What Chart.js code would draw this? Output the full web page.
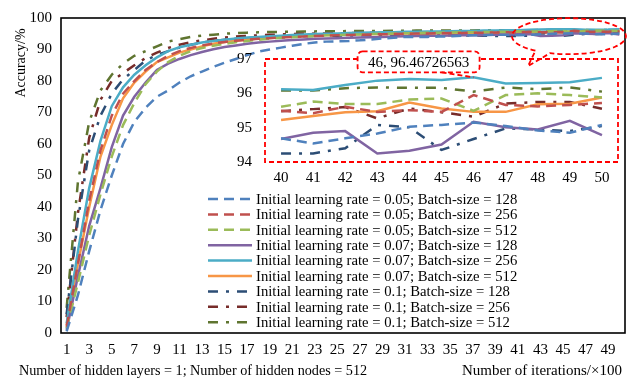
<!DOCTYPE html>
<html>
<head>
<meta charset="utf-8">
<script src="https://cdn.jsdelivr.net/npm/chart.js@4.4.1/dist/chart.umd.min.js"></script>
<style>
  html, body { margin: 0; padding: 0; background: #fff; }
  #wrap { position: relative; width: 638px; height: 383px; }
  #wrap canvas { position: absolute; left: 0; top: 0; }
</style>
</head>
<body>
<div id="wrap">
  <canvas id="mainChart" width="638" height="383"></canvas>
  <canvas id="insetChart" width="638" height="383"></canvas>
</div>
<script>
// x categories (iterations x100)
const iterations = [1, 2, 3, 4, 5, 6, 7, 8, 9, 10, 11, 12, 13, 14, 15, 16, 17, 18, 19, 20,
  21, 22, 23, 24, 25, 26, 27, 28, 29, 30, 31, 32, 33, 34, 35, 36, 37, 38, 39, 40,
  41, 42, 43, 44, 45, 46, 47, 48, 49, 50];
const zoomIterations = [40, 41, 42, 43, 44, 45, 46, 47, 48, 49, 50];
const zoomStart = 39; // index of iteration 40

const lr005_bs128 = [0.5, 12, 26, 39, 50, 60, 67, 71.5, 75, 77, 79.5, 81.5, 83, 84.5, 85.8, 87, 88.2, 89.3, 90, 90.6,
  91.2, 91.8, 92.2, 92.5, 92.6, 92.7, 92.9, 93.2, 93.5, 93.7, 94.0, 94.0, 94.0, 94.1, 94.2, 94.4, 94.5, 94.6, 94.7,
  94.69, 94.54, 94.69, 94.83, 95.03, 95.08, 95.15, 95.05, 94.92, 94.85, 95.08];
const lr005_bs256 = [2, 22, 42, 58, 69, 76, 80, 83.5, 86, 88, 89.5, 90.5, 91.3, 91.9, 92.4, 92.8, 93.1, 93.4, 93.6, 93.8,
  94.0, 94.1, 94.3, 94.4, 94.5, 94.6, 94.7, 94.8, 94.85, 94.9, 95.0, 95.05, 95.1, 95.15, 95.2, 95.25, 95.3, 95.35, 95.4,
  95.49, 95.42, 95.61, 95.46, 95.51, 95.46, 95.95, 95.66, 95.62, 95.66, 95.72];
const lr005_bs512 = [1.5, 16, 31, 44, 56, 66, 73, 79, 83, 86, 88, 89.5, 90.5, 91.2, 91.8, 92.3, 92.7, 93.1, 93.4, 93.7,
  93.9, 94.1, 94.3, 94.5, 94.6, 94.7, 94.8, 94.9, 95.0, 95.1, 95.15, 95.2, 95.3, 95.35, 95.4, 95.45, 95.5, 95.55, 95.6,
  95.61, 95.76, 95.69, 95.69, 95.82, 95.85, 95.49, 95.95, 96.0, 95.95, 95.88];
const lr007_bs128 = [1, 18, 34, 46, 59, 69, 75, 79.5, 83.5, 85.5, 87, 88.2, 89.2, 90.1, 90.8, 91.3, 91.8, 92.2, 92.5, 92.8,
  93.0, 93.2, 93.4, 93.5, 93.6, 93.7, 93.8, 93.9, 94.0, 94.1, 94.2, 94.3, 94.35, 94.4, 94.45, 94.5, 94.55, 94.6, 94.65,
  94.67, 94.85, 94.9, 94.25, 94.33, 94.51, 95.17, 95.01, 94.95, 95.2, 94.78];
const lr007_bs256 = [3, 26, 46, 61, 72, 78, 82, 85, 87.5, 89.5, 90.7, 91.5, 92.2, 92.7, 93.1, 93.5, 93.8, 94.0, 94.2, 94.4,
  94.6, 94.75, 94.9, 95.0, 95.1, 95.2, 95.3, 95.4, 95.45, 95.5, 95.6, 95.65, 95.7, 95.75, 95.8, 95.85, 95.9, 96.0, 96.05,
  96.12, 96.10, 96.24, 96.37, 96.42, 96.39, 96.46726563, 96.29, 96.30, 96.32, 96.45];
const lr007_bs512 = [2.5, 22, 40, 56, 66, 74.5, 79.5, 83, 86, 87.5, 89, 90, 91, 91.8, 92.4, 92.8, 93.2, 93.5, 93.8, 94.0,
  94.2, 94.35, 94.5, 94.6, 94.7, 94.8, 94.85, 94.9, 94.95, 95.0, 95.05, 95.1, 95.1, 95.15, 95.15, 95.2, 95.2, 95.2, 95.2,
  95.22, 95.34, 95.45, 95.48, 95.73, 95.56, 95.46, 95.46, 95.68, 95.70, 95.88];
const lr01_bs128 = [6, 36, 58, 69, 76, 80.5, 83.5, 86.5, 88.3, 89.5, 90.6, 91.5, 92.2, 92.7, 93.1, 93.4, 93.6, 93.8, 93.9, 94.0,
  94.1, 94.2, 94.3, 94.35, 94.4, 94.45, 94.5, 94.5, 94.55, 94.55, 94.6, 94.6, 94.6, 94.6, 94.55, 94.5, 94.45, 94.4, 94.3,
  94.25, 94.25, 94.4, 95.08, 95.01, 94.35, 94.67, 94.98, 94.95, 94.9, 95.05];
const lr01_bs256 = [5, 38, 62, 74, 80, 82.5, 85, 87.3, 89, 90.5, 91.5, 92.3, 92.9, 93.4, 93.8, 94.1, 94.3, 94.5, 94.65, 94.8,
  94.9, 95.0, 95.05, 95.1, 95.15, 95.2, 95.25, 95.3, 95.3, 95.35, 95.35, 95.4, 95.4, 95.45, 95.45, 95.45, 95.5, 95.5, 95.5,
  95.48, 95.54, 95.6, 95.27, 95.56, 95.45, 95.32, 95.7, 95.75, 95.75, 95.55];
const lr01_bs512 = [8, 48, 67, 77, 82, 85.5, 88, 89.5, 91, 92.5, 93.3, 94, 94.4, 94.7, 95, 95.2, 95.35, 95.45, 95.55, 95.6,
  95.65, 95.7, 95.75, 95.8, 95.8, 95.85, 95.85, 95.9, 95.9, 95.95, 95.95, 96.0, 96.0, 96.0, 96.05, 96.05, 96.05, 96.1, 96.1,
  96.08, 96.08, 96.15, 96.17, 96.16, 96.16, 96.05, 96.17, 96.12, 96.17, 96.05];

const seriesLabels = [
  'Initial learning rate = 0.05; Batch-size = 128',
  'Initial learning rate = 0.05; Batch-size = 256',
  'Initial learning rate = 0.05; Batch-size = 512',
  'Initial learning rate = 0.07; Batch-size = 128',
  'Initial learning rate = 0.07; Batch-size = 256',
  'Initial learning rate = 0.07; Batch-size = 512',
  'Initial learning rate = 0.1; Batch-size = 128',
  'Initial learning rate = 0.1; Batch-size = 256',
  'Initial learning rate = 0.1; Batch-size = 512'
];
const series = [lr005_bs128, lr005_bs256, lr005_bs512, lr007_bs128, lr007_bs256, lr007_bs512,
  lr01_bs128, lr01_bs256, lr01_bs512];

const calloutIndex = 6; // iteration 46 in the zoomed view
const calloutSeries = 4;

// styles
const DASH = [10, 6];
const DASH_DOT = [10, 8, 3, 8];
const seriesColors = ['#4F81BD', '#C0504D', '#9BBB59', '#8064A2', '#4BACC6', '#F79646', '#2C4D75', '#772C2A', '#5F7530'];
const seriesDash = [DASH, DASH, DASH, [], [], [], DASH_DOT, DASH_DOT, DASH_DOT];
const FONT = '"Liberation Serif", "Times New Roman", serif';

function buildDatasets(from) {
  return series.map((s, i) => ({
    label: seriesLabels[i],
    data: s.slice(from),
    borderColor: seriesColors[i],
    backgroundColor: seriesColors[i],
    borderDash: seriesDash[i],
    borderWidth: 2.5,
    borderCapStyle: 'butt',
    pointRadius: 0,
    tension: 0,
    fill: false
  }));
}

const tickFont = { family: FONT, size: 15 };

// frame, titles, legend and the ellipse callout on the main chart
const mainDecor = {
  id: 'mainDecor',
  afterDraw(chart) {
    const { ctx, chartArea: a, scales } = chart;
    ctx.save();
    ctx.strokeStyle = '#000';
    ctx.lineWidth = 1.6;
    ctx.strokeRect(a.left, a.top, a.right - a.left, a.bottom - a.top);

    ctx.fillStyle = '#000';
    ctx.textBaseline = 'middle';

    ctx.save();
    ctx.font = '14px ' + FONT;
    ctx.translate(21, 63);
    ctx.rotate(-Math.PI / 2);
    ctx.textAlign = 'center';
    ctx.fillText('Accuracy/%', 0, 0);
    ctx.restore();

    ctx.font = '14.2px ' + FONT;
    ctx.textAlign = 'left';
    ctx.fillText('Number of hidden layers = 1; Number of hidden nodes = 512', 19, 371);
    ctx.font = '15px ' + FONT;
    ctx.textAlign = 'right';
    ctx.fillText('Number of iterations/\u00d7100', 622, 371);

    // legend
    ctx.font = '14.7px ' + FONT;
    chart.data.datasets.forEach((ds, i) => {
      const y = 199 + i * 15.4;
      ctx.strokeStyle = ds.borderColor;
      ctx.lineWidth = 2.5;
      ctx.setLineDash(ds.borderDash);
      ctx.beginPath();
      ctx.moveTo(208, y);
      ctx.lineTo(252, y);
      ctx.stroke();
      ctx.setLineDash([]);
      ctx.textAlign = 'left';
      ctx.fillText(ds.label, 256, y + 1);
    });

    // dashed ellipse around the zoomed region
    const x = scales.x, yS = scales.y;
    const cx = (x.getPixelForValue(zoomStart) + x.getPixelForValue(iterations.length - 1)) / 2 + 6;
    const cy = yS.getPixelForValue(95.5) + 4;
    const rx = 57, ry = 18;
    const t1 = 1.91, t2 = 2.2;
    ctx.strokeStyle = '#FF0000';
    ctx.lineWidth = 1.8;
    ctx.setLineDash([5, 3]);
    ctx.beginPath();
    ctx.ellipse(cx, cy, rx, ry, 0, t2, t1 + Math.PI * 2);
    ctx.lineTo(cx - 41, cy + 30);
    ctx.lineTo(cx + rx * Math.cos(t2), cy + ry * Math.sin(t2));
    ctx.stroke();
    ctx.restore();
  }
};

new Chart(document.getElementById('mainChart'), {
  type: 'line',
  data: { labels: iterations, datasets: buildDatasets(0) },
  options: {
    responsive: false,
    animation: false,
    devicePixelRatio: 1,
    layout: { padding: { left: 0, top: 9, right: 13, bottom: 0 } },
    plugins: { legend: { display: false }, tooltip: { enabled: false } },
    scales: {
      x: {
        offset: true,
        grid: { display: false, drawTicks: false },
        border: { display: false },
        ticks: {
          autoSkip: false, maxRotation: 0, minRotation: 0, padding: 8, color: '#000', font: tickFont,
          callback: function (v, i) { return i % 2 === 0 ? this.getLabelForValue(v) : ''; }
        },
        afterFit: s => { s.height = 50; }
      },
      y: {
        min: 0, max: 100,
        grid: { display: false, drawTicks: false },
        border: { display: false },
        ticks: { stepSize: 10, padding: 9, color: '#000', font: tickFont },
        afterFit: s => { s.width = 61; }
      }
    }
  },
  plugins: [mainDecor]
});

// red dashed frame and the value callout on the inset
const insetDecor = {
  id: 'insetDecor',
  afterDraw(chart) {
    const { ctx, chartArea: a, scales } = chart;
    ctx.save();
    ctx.strokeStyle = '#FF0000';
    ctx.lineWidth = 1.8;
    ctx.setLineDash([5, 3]);
    ctx.strokeRect(a.left, a.top, a.right - a.left, a.bottom - a.top);

    const v = series[calloutSeries][zoomStart + calloutIndex];
    const px = scales.x.getPixelForValue(calloutIndex);
    const py = scales.y.getPixelForValue(v);
    const text = zoomIterations[calloutIndex] + ', ' + v;
    const bw = 122, bh = 21;
    const bx = px - 116, by = py - 26;
    ctx.fillStyle = '#fff';
    ctx.beginPath();
    ctx.roundRect(bx, by, bw, bh, 5);
    ctx.fill();
    ctx.stroke();
    ctx.beginPath();
    ctx.moveTo(px - 32, by + bh);
    ctx.lineTo(px, py);
    ctx.stroke();
    ctx.setLineDash([]);
    ctx.fillStyle = '#000';
    ctx.font = '15px ' + FONT;
    ctx.textAlign = 'center';
    ctx.textBaseline = 'middle';
    ctx.fillText(text, bx + bw / 2, by + bh / 2 + 1);
    ctx.restore();
  }
};

new Chart(document.getElementById('insetChart'), {
  type: 'line',
  data: { labels: zoomIterations, datasets: buildDatasets(zoomStart) },
  options: {
    responsive: false,
    animation: false,
    devicePixelRatio: 1,
    events: [],
    layout: { padding: { left: 225, top: 59, right: 20, bottom: 191 } },
    plugins: { legend: { display: false }, tooltip: { enabled: false } },
    scales: {
      x: {
        offset: true,
        grid: { display: false, drawTicks: false },
        border: { display: false },
        ticks: { autoSkip: false, maxRotation: 0, padding: 7, color: '#000', font: tickFont },
        afterFit: s => { s.height = 30; }
      },
      y: {
        min: 94, max: 97,
        grid: { display: false, drawTicks: false },
        border: { display: false },
        ticks: { stepSize: 1, padding: 13, color: '#000', font: tickFont },
        afterFit: s => { s.width = 40; }
      }
    }
  },
  plugins: [insetDecor]
});
</script>
</body>
</html>
